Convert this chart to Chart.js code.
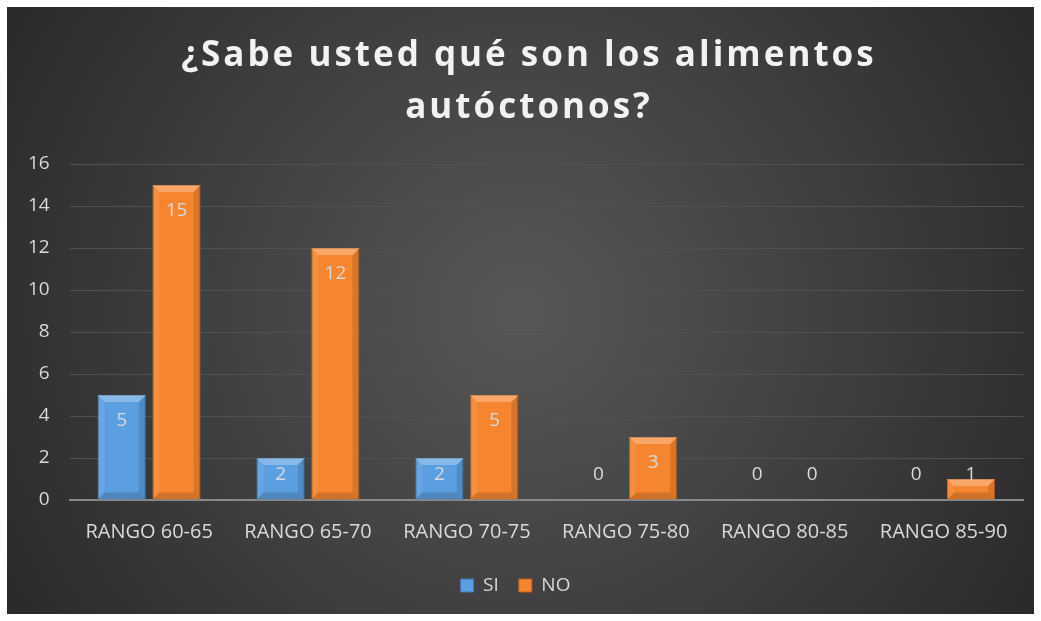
<!DOCTYPE html>
<html>
<head>
<meta charset="utf-8">
<style>
  html, body { margin: 0; padding: 0; background: #fff; }
  #wrap { width: 1041px; height: 621px; }
</style>
<script src="https://cdn.jsdelivr.net/npm/chart.js@4/dist/chart.umd.min.js"></script>
</head>
<body>
<div id="wrap"><canvas id="chart" width="1041" height="621"></canvas></div>
<script>
const categories = ['RANGO 60-65', 'RANGO 65-70', 'RANGO 70-75', 'RANGO 75-80', 'RANGO 80-85', 'RANGO 85-90'];
const siValues = [5, 2, 2, 0, 0, 0];
const noValues = [15, 12, 5, 3, 0, 1];
const yTicks = [0, 2, 4, 6, 8, 10, 12, 14, 16];
const titleLines = ['¿Sabe usted qué son los alimentos', 'autóctonos?'];

const textColor = '#d9d9d9';
const fontName = "'Open Sans', 'Noto Sans', sans-serif";

// dark panel with a soft radial glow, inset inside a white border
const panelBackground = {
  id: 'panelBackground',
  beforeDraw(chart) {
    const ctx = chart.ctx;
    const w = chart.width, h = chart.height;
    ctx.save();
    ctx.fillStyle = '#ffffff';
    ctx.fillRect(0, 0, w, h);
    const g = ctx.createRadialGradient(w / 2, h / 2, 20, w / 2, h / 2, w * 0.62);
    g.addColorStop(0, '#565656');
    g.addColorStop(1, '#262626');
    ctx.fillStyle = g;
    ctx.fillRect(7, 7, w - 14, h - 14);
    ctx.restore();
  }
};

// title drawn by hand so it can get the letter spacing of the original
const spacedTitle = {
  id: 'spacedTitle',
  afterDraw(chart) {
    const ctx = chart.ctx;
    ctx.save();
    ctx.fillStyle = '#f2f2f2';
    ctx.font = 'bold 35px ' + fontName;
    ctx.letterSpacing = '3px';
    ctx.textAlign = 'center';
    ctx.textBaseline = 'middle';
    ctx.fillText(titleLines[0], 529, 56);
    ctx.fillText(titleLines[1], 529, 108);
    ctx.restore();
  }
};

// bevelled look on each bar + value labels
const barBevel = {
  id: 'barBevel',
  afterDatasetsDraw(chart) {
    const ctx = chart.ctx;
    ctx.save();
    chart.data.datasets.forEach((ds, di) => {
      const meta = chart.getDatasetMeta(di);
      meta.data.forEach((bar, i) => {
        const v = ds.data[i];
        const left = bar.x - bar.width / 2;
        const right = bar.x + bar.width / 2;
        const top = bar.y;
        const bottom = bar.base;
        const hgt = bottom - top;
        if (hgt > 2) {
          const b = Math.min(7, hgt / 2);
          ctx.fillStyle = 'rgba(255,255,255,0.28)';
          ctx.beginPath();
          ctx.moveTo(left, top);
          ctx.lineTo(right, top);
          ctx.lineTo(right - b, top + b);
          ctx.lineTo(left + b, top + b);
          ctx.closePath();
          ctx.fill();
          ctx.fillStyle = 'rgba(0,0,0,0.12)';
          ctx.beginPath();
          ctx.moveTo(right, top);
          ctx.lineTo(right, bottom);
          ctx.lineTo(right - b, bottom - b);
          ctx.lineTo(right - b, top + b);
          ctx.closePath();
          ctx.fill();
          ctx.fillStyle = 'rgba(255,255,255,0.08)';
          ctx.beginPath();
          ctx.moveTo(left, top);
          ctx.lineTo(left, bottom);
          ctx.lineTo(left + b, bottom - b);
          ctx.lineTo(left + b, top + b);
          ctx.closePath();
          ctx.fill();
          ctx.fillStyle = 'rgba(0,0,0,0.15)';
          ctx.beginPath();
          ctx.moveTo(left, bottom);
          ctx.lineTo(right, bottom);
          ctx.lineTo(right - b, bottom - b);
          ctx.lineTo(left + b, bottom - b);
          ctx.closePath();
          ctx.fill();
        }
        // value label, inside end
        ctx.fillStyle = textColor;
        ctx.font = '19px ' + fontName;
        ctx.textAlign = 'center';
        ctx.textBaseline = 'middle';
        const ly = Math.min(top + 26, bottom - 25);
        ctx.fillText(String(v), bar.x, ly);
      });
    });
    ctx.restore();
  }
};

const ctx = document.getElementById('chart').getContext('2d');
const chart = new Chart(ctx, {
  type: 'bar',
  data: {
    labels: categories,
    datasets: [{
      label: 'SI',
      data: siValues,
      backgroundColor: '#5b9fe0',
      borderColor: '#3f79b5',
      borderWidth: 1,
      barPercentage: 0.88,
      categoryPercentage: 0.69
    }, {
      label: 'NO',
      data: noValues,
      backgroundColor: '#f5862f',
      borderColor: '#c0601c',
      borderWidth: 1,
      barPercentage: 0.88,
      categoryPercentage: 0.69
    }]
  },
  options: {
    responsive: false,
    animation: false,
    layout: { padding: { left: 8, right: 18, top: 164, bottom: 16 } },
    plugins: {
      title: { display: false },
      legend: {
        position: 'bottom',
        labels: {
          color: textColor,
          font: { family: fontName, size: 19 },
          boxWidth: 13,
          boxHeight: 13,
          padding: 20
        }
      },
      tooltip: { enabled: false }
    },
    scales: {
      x: {
        grid: { display: false },
        border: { color: '#8a8a8a', width: 2 },
        ticks: { color: textColor, font: { family: fontName, size: 20 }, padding: 12 }
      },
      y: {
        min: 0,
        max: 16,
        afterBuildTicks(axis) { axis.ticks = yTicks.map(v => ({ value: v })); },
        grid: { color: '#505050', drawTicks: false },
        border: { display: false },
        ticks: { color: textColor, font: { family: fontName, size: 19 }, padding: 20 }
      }
    }
  },
  plugins: [panelBackground, spacedTitle, barBevel]
});
</script>
</body>
</html>
